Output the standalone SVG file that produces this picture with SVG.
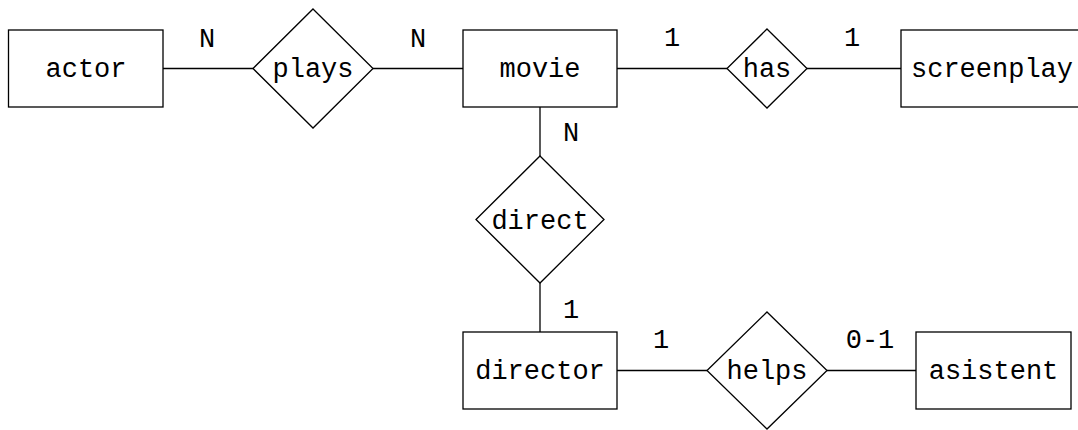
<svg xmlns="http://www.w3.org/2000/svg" width="1078" height="430" viewBox="0 0 1078 430">
<style>
.s{fill:#fff;stroke:#000;stroke-width:1.3}
.l{stroke:#000;stroke-width:1.3;fill:none}
text{font-family:"Liberation Mono","DejaVu Sans Mono",monospace;font-size:27px;fill:#000;text-anchor:middle}
</style>
<rect width="1078" height="430" fill="#fff"/>
<g id="connectors">
<line class="l" x1="163" y1="68.5" x2="253" y2="68.5"/>
<line class="l" x1="373" y1="68.5" x2="463" y2="68.5"/>
<line class="l" x1="617" y1="68.5" x2="727" y2="68.5"/>
<line class="l" x1="807" y1="68.5" x2="901" y2="68.5"/>
<line class="l" x1="540" y1="107" x2="540" y2="156"/>
<line class="l" x1="540" y1="283" x2="540" y2="332"/>
<line class="l" x1="617" y1="370.5" x2="707" y2="370.5"/>
<line class="l" x1="827" y1="370.5" x2="916" y2="370.5"/>
<text x="207" y="47">N</text>
<text x="418" y="47">N</text>
<text x="672" y="46">1</text>
<text x="852" y="46">1</text>
<text x="571" y="141">N</text>
<text x="571" y="318">1</text>
<text x="661" y="348">1</text>
<text x="870" y="348">0-1</text>
</g>
<g id="actor"><rect class="s" x="8.5" y="30" width="154.5" height="77"/><text x="86" y="77">actor</text></g>
<g id="plays"><polygon class="s" points="313,9 373,68.5 313,128 253,68.5"/><text x="313" y="77">plays</text></g>
<g id="movie"><rect class="s" x="463" y="30" width="154" height="77"/><text x="540" y="77">movie</text></g>
<g id="has"><polygon class="s" points="767,29 807,68.5 767,108 727,68.5"/><text x="767" y="77">has</text></g>
<g id="screenplay"><rect class="s" x="901" y="30" width="184" height="77"/><text x="992" y="77">screenplay</text></g>
<g id="direct"><polygon class="s" points="540,156 604,219.5 540,283 476,219.5"/><text x="540" y="229">direct</text></g>
<g id="director"><rect class="s" x="463" y="332" width="154" height="77"/><text x="540" y="379">director</text></g>
<g id="helps"><polygon class="s" points="767,312 827,370.5 767,429 707,370.5"/><text x="767" y="379">helps</text></g>
<g id="asistent"><rect class="s" x="916" y="332" width="155" height="77"/><text x="993.5" y="379">asistent</text></g>
</svg>
